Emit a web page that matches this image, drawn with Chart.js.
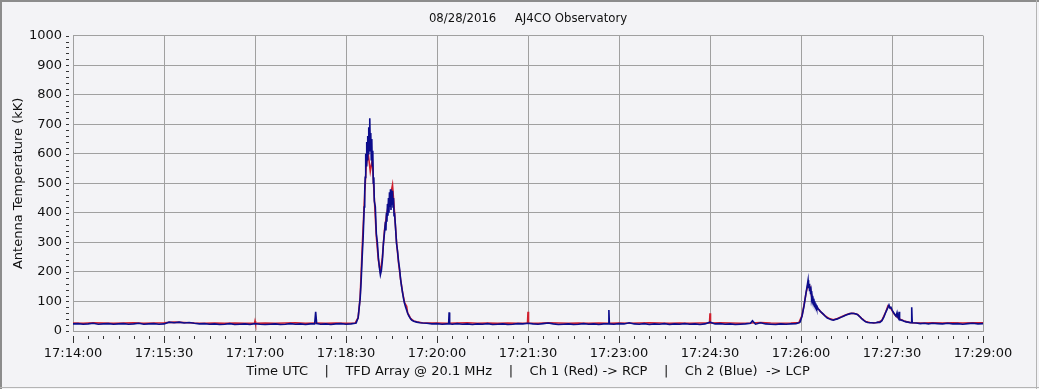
<!DOCTYPE html>
<html><head><meta charset="utf-8">
<script src="https://cdn.jsdelivr.net/npm/chart.js@4.4.0/dist/chart.umd.min.js"></script>
<style>html,body{margin:0;padding:0;background:#f3f3f6;}#wrap{position:relative;width:1039px;height:389px;}</style>
</head><body><div id="wrap"><canvas id="c"></canvas></div>
<script>
const titleText = '08/28/2016     AJ4CO Observatory';
const xAxisTitle = 'Time UTC    |    TFD Array @ 20.1 MHz    |    Ch 1 (Red) -> RCP    |    Ch 2 (Blue)  -> LCP';
const yAxisTitle = 'Antenna Temperature (kK)';
const timeLabels = ['17:14:00','17:15:30','17:17:00','17:18:30','17:20:00','17:21:30','17:23:00','17:24:30','17:26:00','17:27:30','17:29:00'];

// seconds after 17:14:00 UTC, Ch 2 (Blue) -> LCP
const blueTimes = [0,5,10,15,20,25,30,35,40,45,50,55,60,65,70,75,80,85,90,95,100,105,110,115,120,125,130,135,140,145,150,155,160,165,170,175,180,185,190,195,200,205,210,215,220,225,230,235,239,240,241,245,250,255,260,265,270,275,279,
280,282,284,285,286,287,288,288.5,289,289.5,290,290.5,291,291.5,292,292.5,293,293.5,294,294.5,295,295.5,296,296.5,297,297.5,298,299,300,301,302,303,304,305,306,307,308,309,309.5,310,310.5,311,311.5,312,312.5,313,313.5,314,314.5,315,315.5,316,316.5,317,317.5,318,319,320,321,322,323,324,325,326,327,328,329,330,331,332,333,334,335,337,340,343,346,
350,355,360,365,370,371.5,372,372.5,375,380,385,390,395,400,405,410,415,420,425,430,435,440,445,450,455,460,465,470,475,480,485,490,495,500,505,510,515,520,525,529.5,530,530.5,535,540,545,550,555,560,565,570,575,580,585,590,595,600,605,610,615,620,625,630,635,640,645,650,655,660,665,670,672,675,680,685,690,695,700,705,710,715,718,
719,721,723,725,726,727,727.5,728,728.5,729,729.5,730,730.5,731,731.5,732,732.5,733,733.5,734,734.5,735,735.5,736,737,738,739,740,742,744,746,748,750,752,754,756,758,760,762,764,766,768,770,772,774,776,778,780,782,784,786,788,790,792,794,796,798,800,802,804,806,807,808,809,810,811,812,813,814,815,816,816.5,817,817.5,818,820,822,824,826,828,829,829.5,830,834,838,842,846,850,855,860,865,870,875,880,885,890,895,900];
const blueValues = [24,25,23,24,26,23,24,25,23,24,25,23,24,26,23,24,25,23,24,30,28,30,27,29,26,24,25,23,24,22,23,25,22,23,24,22,25,23,22,23,24,22,23,25,23,24,22,24,24,65,25,23,24,22,24,25,23,24,26,
27,45,110,170,250,320,420,470,520,600,560,640,580,660,600,690,610,720,630,670,580,650,560,610,500,520,440,420,330,300,250,215,190,205,240,296,330,370,340,400,370,430,390,450,400,470,420,480,410,470,430,475,420,450,390,400,350,296,270,235,210,175,150,128,108,92,80,70,60,52,46,41,37,33,30,28,27,
26,24,25,23,24,24,63,24,23,25,23,24,22,24,23,25,22,23,24,22,23,25,24,26,24,23,25,27,24,22,23,24,22,23,25,23,24,22,24,24,71,24,23,25,24,28,24,23,25,22,24,23,25,22,24,23,25,23,24,22,24,30,24,25,23,24,22,23,24,26,35,23,28,24,23,22,24,23,24,25,28,
30,50,85,130,150,172,145,160,135,150,125,135,110,118,102,108,95,100,88,92,82,86,78,82,74,72,66,64,57,50,44,41,38,37,39,41,44,47,50,53,56,58,60,59,58,55,49,42,36,31,29,28,28,27,28,30,29,35,48,65,80,88,78,80,72,65,60,55,50,62,45,42,65,40,38,36,33,31,30,28,28,80,28,27,25,26,24,26,25,24,26,24,25,23,25,26,24,25];

// Ch 1 (Red) -> RCP
const redTimes = [0,10,20,30,40,50,60,70,80,90,100,110,120,130,140,150,160,170,179.5,180,180.5,190,200,210,220,230,240,250,260,270,279,
282,284,286,288,290,292,294,296,298,300,302,304,306,308,310,312,314,316,318,320,322,324,326,328,330,331,332,334,337,340,345,350,
360,370,380,390,400,410,420,430,440,449.5,450,450.5,460,470,480,490,500,510,520,530,540,550,560,570,580,590,600,610,620,629.5,630,630.5,640,650,660,670,680,690,700,710,718,
721,723,725,727,729,731,733,735,737,740,744,748,752,756,760,764,768,772,776,780,784,788,792,796,800,804,806,808,810,812,814,818,822,826,830,840,850,860,870,880,890,900];
const redValues = [27,26,28,27,26,27,28,26,27,28,30,29,27,26,27,26,27,26,26,34,26,27,26,27,28,26,27,26,27,26,27,
45,115,280,430,560,600,540,580,450,320,240,200,250,340,390,430,460,495,400,300,230,175,130,95,84,60,55,42,34,31,28,27,
27,26,27,28,26,27,26,27,26,27,65,27,26,28,27,26,27,26,27,26,27,26,27,28,27,26,27,26,27,27,60,27,28,27,26,27,29,27,26,27,29,
52,88,128,160,150,108,94,82,75,63,51,42,38,42,48,54,59,60,56,43,32,29,28,29,36,66,85,80,70,58,50,40,34,30,28,27,28,27,28,27,28,28];

const tickFont = {family:"'DejaVu Sans', Verdana, sans-serif", size:13};
const gridCol = '#a0a0a0';

const framePlugin = {
  id:'frame',
  beforeDraw(chart){
    const c = chart.ctx; c.save();
    c.fillStyle = '#f3f3f6'; c.fillRect(0,0,chart.width,chart.height);
    c.fillStyle = '#8c8c8c'; c.fillRect(0,0,chart.width,2); c.fillRect(0,0,2,chart.height);
    c.fillStyle = '#b4b4b4'; c.fillRect(1036,0,1,chart.height); c.fillRect(0,chart.height-2,chart.width,1);
    c.restore();
  },
  afterDraw(chart){
    const c = chart.ctx, xs = chart.scales.x, ys = chart.scales.y;
    const b = chart.chartArea.bottom, l = chart.chartArea.left;
    c.save(); c.strokeStyle = '#333'; c.lineWidth = 1; c.beginPath();
    xs.ticks.forEach(t => {
      const px = Math.round(xs.getPixelForValue(t.value)) + 0.5;
      const len = (t.value % 90 === 0) ? 7 : 3;
      c.moveTo(px, b + 5); c.lineTo(px, b + 5 + len);
    });
    ys.ticks.forEach(t => {
      const py = Math.round(ys.getPixelForValue(t.value)) + 0.5;
      c.moveTo(l - 7, py); c.lineTo(l - 4, py);
    });
    c.stroke(); c.restore();
  }
};

new Chart(document.getElementById('c'), {
  type:'line',
  data:{datasets:[
    {label:'Ch 2 (Blue)', data: blueTimes.map((t,i)=>({x:t,y:blueValues[i]})), borderColor:'#0c0c8c', borderWidth:1.6, pointRadius:0, tension:0},
    {label:'Ch 1 (Red)', data: redTimes.map((t,i)=>({x:t,y:redValues[i]})), borderColor:'#d0202e', borderWidth:1.6, pointRadius:0, tension:0}
  ]},
  options:{
    responsive:true, maintainAspectRatio:false, animation:false,
    layout:{padding:{left:0,right:56,top:0,bottom:0}},
    plugins:{
      legend:{display:false}, tooltip:{enabled:false},
      title:{display:true, text:titleText, fullSize:false, color:'#111', padding:{top:11,bottom:9},
        font:{family:"'Liberation Sans Narrow', 'DejaVu Sans Condensed', sans-serif", size:13, weight:'normal'}}
    },
    scales:{
      x:{type:'linear', min:0, max:900,
        afterFit(s){ s.height = 58; },
        ticks:{stepSize:15, autoSkip:false, maxRotation:0, padding:15, color:'#111', font:tickFont,
          callback:(v)=> (v % 90 === 0) ? timeLabels[v/90] : ''},
        grid:{drawTicks:false, color:(ctx)=> (ctx.tick && ctx.tick.value % 90 === 0) ? gridCol : 'rgba(0,0,0,0)'},
        border:{display:true, color:gridCol},
        title:{display:true, text:xAxisTitle, color:'#111', font:tickFont, padding:{top:0,bottom:10}}
      },
      y:{min:0, max:1000,
        afterFit(s){ s.width = 73; },
        ticks:{stepSize:20, autoSkip:false, padding:11, color:'#111', font:tickFont,
          callback:(v)=> (v % 100 === 0) ? String(v) : ''},
        grid:{drawTicks:false, color:(ctx)=> (ctx.tick && ctx.tick.value % 100 === 0) ? gridCol : 'rgba(0,0,0,0)'},
        border:{display:true, color:gridCol},
        title:{display:true, text:yAxisTitle, color:'#111', font:tickFont, padding:{top:11,bottom:0}}
      }
    }
  },
  plugins:[framePlugin]
});
</script></body></html>
